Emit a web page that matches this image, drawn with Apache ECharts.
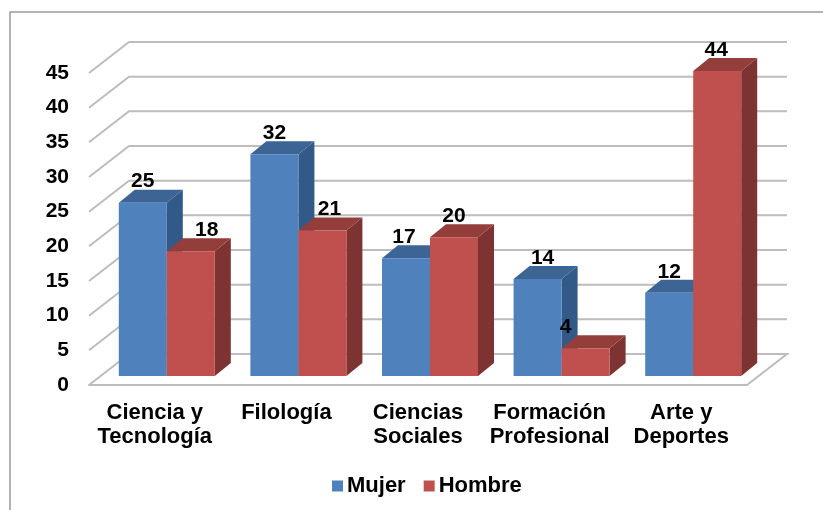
<!DOCTYPE html>
<html>
<head>
<meta charset="utf-8">
<style>
  html, body { margin: 0; padding: 0; background: #fff; }
  #chart { width: 823px; height: 510px; }
</style>
</head>
<body>
<div id="chart"></div>
<script src="https://cdn.jsdelivr.net/npm/echarts@6/dist/echarts.min.js"></script>
<script>
var categories = ['Ciencia y\nTecnología', 'Filología', 'Ciencias\nSociales', 'Formación\nProfesional', 'Arte y\nDeportes'];
var mujer = [25, 32, 17, 14, 12];
var hombre = [18, 21, 20, 4, 44];
var ticks = [0, 5, 10, 15, 20, 25, 30, 35, 40, 45];

var FONT = '"Liberation Sans", Arial, sans-serif';
// 3d look: wall sits behind the front plane, bars stand a bit inside the floor
var WALL_DX = 40, WALL_DY = -31;
var BAR_DX = 12, BAR_DY = -9;
var DEPTH_DX = 16, DEPTH_DY = -13;
var BAR_W = 48;
var GRID_COLOR = '#bdbdbd';
// some labels were moved by hand in the original
var MUJER_LABEL_SHIFT = [0, 0, -2, 5, 0];
var HOMBRE_LABEL_SHIFT = [16, 7, 0, -20, -1];

function poly(points, color) {
  return { type: 'polygon', shape: { points: points }, style: { fill: color } };
}

function barSeries(name, values, side, colors, labelShift) {
  return {
    name: name,
    type: 'custom',
    z: 3,
    itemStyle: { color: colors.front },
    data: values.map(function (v, i) { return [i, v]; }),
    renderItem: function (params, api) {
      var top = api.coord([api.value(0), api.value(1)]);
      var base = api.coord([api.value(0), 0]);
      var x0 = top[0] + BAR_DX + (side === 0 ? -BAR_W : 0);
      var x1 = x0 + BAR_W;
      var yt = top[1] + BAR_DY;
      var yb = base[1] + BAR_DY;
      return {
        type: 'group',
        children: [
          poly([[x1, yt], [x1 + DEPTH_DX, yt + DEPTH_DY], [x1 + DEPTH_DX, yb + DEPTH_DY], [x1, yb]], colors.side),
          poly([[x0, yt], [x0 + DEPTH_DX, yt + DEPTH_DY], [x1 + DEPTH_DX, yt + DEPTH_DY], [x1, yt]], colors.top),
          poly([[x0, yt], [x1, yt], [x1, yb], [x0, yb]], colors.front),
          {
            type: 'text',
            style: {
              text: String(api.value(1)),
              x: (x0 + x1) / 2 + labelShift[params.dataIndex],
              y: yt - 21,
              align: 'center',
              verticalAlign: 'middle',
              fill: '#000',
              font: 'bold 21px ' + FONT
            }
          }
        ]
      };
    }
  };
}

// wall lines plus the left diagonal for every tick
var gridSeries = {
  type: 'custom',
  z: 1,
  silent: true,
  data: ticks.map(function (t) { return [0, t]; }),
  renderItem: function (params, api) {
    var sys = params.coordSys;
    var y = api.coord([0, api.value(1)])[1];
    var points = [
      [sys.x, y],
      [sys.x + WALL_DX, y + WALL_DY],
      [sys.x + sys.width + WALL_DX, y + WALL_DY]
    ];
    if (api.value(1) === 0) {
      points.push([sys.x + sys.width, y]);
    }
    return {
      type: 'polyline',
      shape: { points: points },
      style: { stroke: GRID_COLOR, lineWidth: 2, fill: 'none' }
    };
  }
};

var option = {
  animation: false,
  backgroundColor: '#fff',
  textStyle: { fontFamily: FONT },
  graphic: [
    {
      type: 'polyline',
      silent: true,
      shape: { points: [[10, 510], [10, 12], [823, 12]] },
      style: { stroke: '#9a9a9a', lineWidth: 1.5, fill: 'none' }
    }
  ],
  grid: { left: 89, right: 76, top: 73, bottom: 125 },
  legend: {
    data: ['Mujer', 'Hombre'],
    left: 327,
    top: 470,
    icon: 'rect',
    itemWidth: 11,
    itemHeight: 11,
    itemGap: 18,
    textStyle: { color: '#000', fontWeight: 'bold', fontSize: 22, fontFamily: FONT, padding: [0, 0, 0, -1] }
  },
  xAxis: {
    type: 'category',
    data: categories,
    axisTick: { show: false },
    axisLine: { lineStyle: { color: GRID_COLOR, width: 2 } },
    axisLabel: {
      interval: 0,
      color: '#000',
      fontWeight: 'bold',
      fontSize: 22,
      lineHeight: 24,
      margin: 16,
      fontFamily: FONT
    }
  },
  yAxis: {
    type: 'value',
    min: 0,
    max: 45,
    interval: 5,
    axisTick: { show: false },
    axisLine: { show: false },
    splitLine: { show: false },
    axisLabel: { color: '#000', fontWeight: 'bold', fontSize: 21, margin: 20, fontFamily: FONT }
  },
  series: [
    gridSeries,
    barSeries('Mujer', mujer, 0, { front: '#4f81bd', top: '#3c6494', side: '#325a88' }, MUJER_LABEL_SHIFT),
    barSeries('Hombre', hombre, 1, { front: '#c0504d', top: '#943e3c', side: '#7d3331' }, HOMBRE_LABEL_SHIFT)
  ]
};

var chart = echarts.init(document.getElementById('chart'));
chart.setOption(option);
</script>
</body>
</html>
